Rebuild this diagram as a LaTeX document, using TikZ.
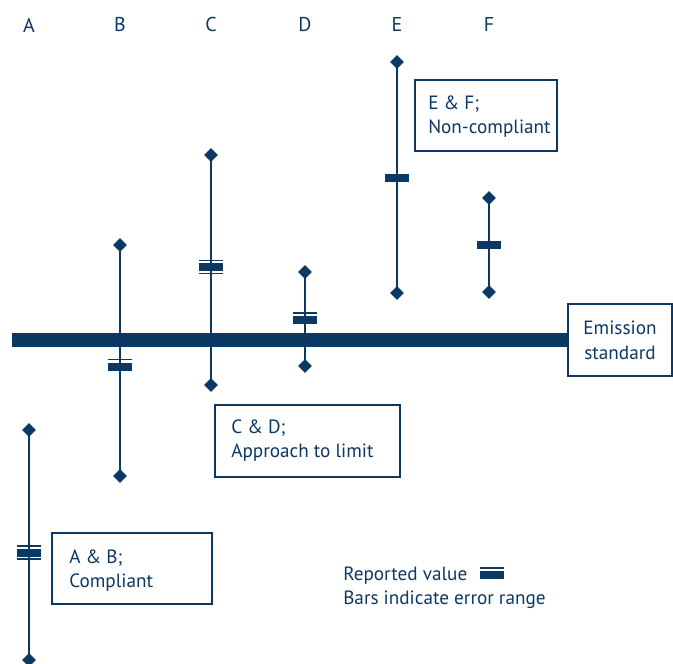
\documentclass[tikz,border=0pt]{standalone}
\usepackage{fontspec}
\setmainfont{PT Sans}
\usetikzlibrary{shapes.geometric}
\definecolor{navy}{RGB}{12,56,100}
\tikzset{
  px/.style={x=0.75pt,y=-0.75pt},
  dia/.style={diamond,fill=navy,inner sep=0pt,minimum width=10.5pt,minimum height=10.5pt},
  vline/.style={draw=navy,line width=1.5pt},
  lbl/.style={font=\fontsize{15pt}{16pt}\selectfont,text=navy},
  txt/.style={font=\fontsize{14.4pt}{18pt}\selectfont,text=navy,align=left,inner sep=0pt},
  boxed/.style={draw=navy,line width=0.9pt,fill=white},
}
\newcommand{\repbar}[2]{% x,y : thick bar
  \fill[navy] (#1-12,#2-4) rectangle (#1+12,#2+4);}
\newcommand{\thinl}[2]{%
  \fill[navy] (#1-12,#2-0.8) rectangle (#1+12,#2+0.8);}
\begin{document}
\begin{tikzpicture}[px]
\useasboundingbox (0,0) rectangle (673,663);
% column labels
\foreach \n/\x in {A/29,B/120,C/211,D/305,E/397,F/489}
  \node[lbl] (l\n) at (\x,25) {\n};
% emission line and box
\node[boxed,minimum width=78pt,minimum height=54pt,txt,align=center,font=\fontsize{14.4pt}{19pt}\selectfont] (es) at (620,340) {Emission\\standard};
\coordinate (el) at (12,340);
\draw[navy,line width=10.5pt] (el) -- (es.west);
% diamonds
\node[dia] (At) at (29,430) {};
\node[dia] (Ab) at (29,660) {};
\node[dia] (Bt) at (120,245) {};
\node[dia] (Bb) at (120,476) {};
\node[dia] (Ct) at (211,155) {};
\node[dia] (Cb) at (211,385) {};
\node[dia] (Dt) at (305,272) {};
\node[dia] (Db) at (305,366) {};
\node[dia] (Et) at (397,62) {};
\node[dia] (Eb) at (397,293) {};
\node[dia] (Ft) at (489,198) {};
\node[dia] (Fb) at (489,292) {};
\foreach \c in {A,B,C,D,E,F}
  \draw[vline] (\c t.center) -- (\c b.center);
% reported values
\thinl{29}{546}\repbar{29}{552.5}\thinl{29}{559}
\thinl{120}{359.5}\repbar{120}{366.5}
\thinl{211}{260.5}\repbar{211}{267}\thinl{211}{273.5}
\thinl{305}{313}\repbar{305}{319.5}
\repbar{397}{178}
\repbar{489}{245}
% text boxes
\draw[boxed] (415,80) rectangle (557,151);
\node[txt,anchor=base west] (ef) at (428,133) {E \& F;\\Non-compliant};
\draw[boxed] (215,405) rectangle (400,477);
\node[txt,anchor=base west] (cd) at (231,457) {C \& D;\\Approach to limit};
\draw[boxed] (52,533) rectangle (212,604);
\node[txt,anchor=base west] (ab) at (69,587) {A \& B;\\Compliant};
% legend
\node[txt,anchor=base west] (leg) at (343,604) {Reported value\\Bars indicate error range};
\thinl{492}{568}\repbar{492}{574.5}
\end{tikzpicture}
\end{document}
